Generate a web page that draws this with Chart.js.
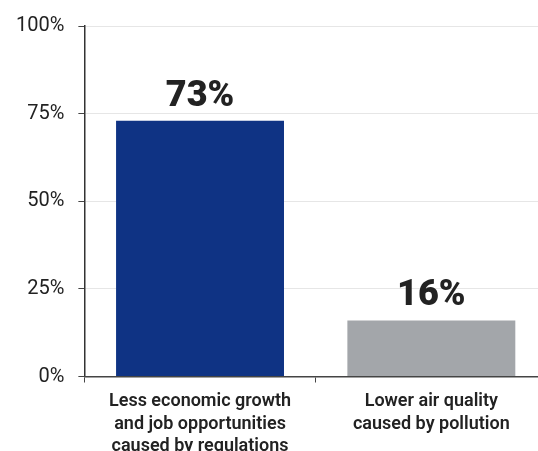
<!DOCTYPE html>
<html>
<head>
<meta charset="utf-8">
<script src="https://cdn.jsdelivr.net/npm/chart.js@4/dist/chart.umd.min.js"></script>
<style>
  html, body { margin: 0; padding: 0; background: #fff; overflow: hidden; }
  #wrap { width: 548px; height: 451px; position: relative; }
</style>
</head>
<body>
<div id="wrap"><canvas id="chart"></canvas></div>
<script>
// --- data ---
const categories = [
    ['Less economic growth', 'and job opportunities', 'caused by regulations'],
    ['Lower air quality', 'caused by pollution']
];
const values = [73, 16];
const barColors = ['#0f3384', '#a3a6aa'];
const yTicks = [0, 25, 50, 75, 100];

// value labels above each bar
const valueLabels = {
    id: 'valueLabels',
    afterDatasetsDraw(chart) {
        const ctx = chart.ctx;
        const meta = chart.getDatasetMeta(0);
        ctx.save();
        ctx.font = '900 36px Roboto';
        ctx.fillStyle = '#222';
        ctx.textAlign = 'center';
        ctx.textBaseline = 'alphabetic';
        meta.data.forEach((bar, i) => {
            ctx.fillText(values[i] + '%', bar.x, bar.y - 15);
        });
        ctx.restore();
    }
};

new Chart(document.getElementById('chart'), {
    type: 'bar',
    data: {
        labels: categories,
        datasets: [{ data: values, backgroundColor: barColors, borderWidth: 0, barPercentage: 0.726, categoryPercentage: 1 }]
    },
    options: {
        responsive: true,
        maintainAspectRatio: false,
        animation: false,
        layout: { padding: { top: 13, left: 2, right: 1, bottom: -15 } },
        plugins: { legend: { display: false }, tooltip: { enabled: false } },
        scales: {
            y: {
                min: 0, max: 100,
                afterBuildTicks: (axis) => { axis.ticks = yTicks.map(v => ({ value: v })); },
                border: { color: '#333', width: 1.5 },
                grid: { color: '#e6e6e6', tickColor: '#444', tickLength: 6 },
                ticks: { color: '#222', padding: 14, font: { family: 'Roboto', size: 20 }, callback: v => v + '%' }
            },
            x: {
                border: { color: '#444', width: 1.5 },
                grid: { drawOnChartArea: false, tickColor: '#444', tickLength: 6, offset: true },
                ticks: { color: '#222', padding: 8, maxRotation: 0, font: { family: 'Roboto', size: 18, weight: '600', lineHeight: 1.25 } }
            }
        }
    },
    plugins: [valueLabels]
});
</script>
</body>
</html>
